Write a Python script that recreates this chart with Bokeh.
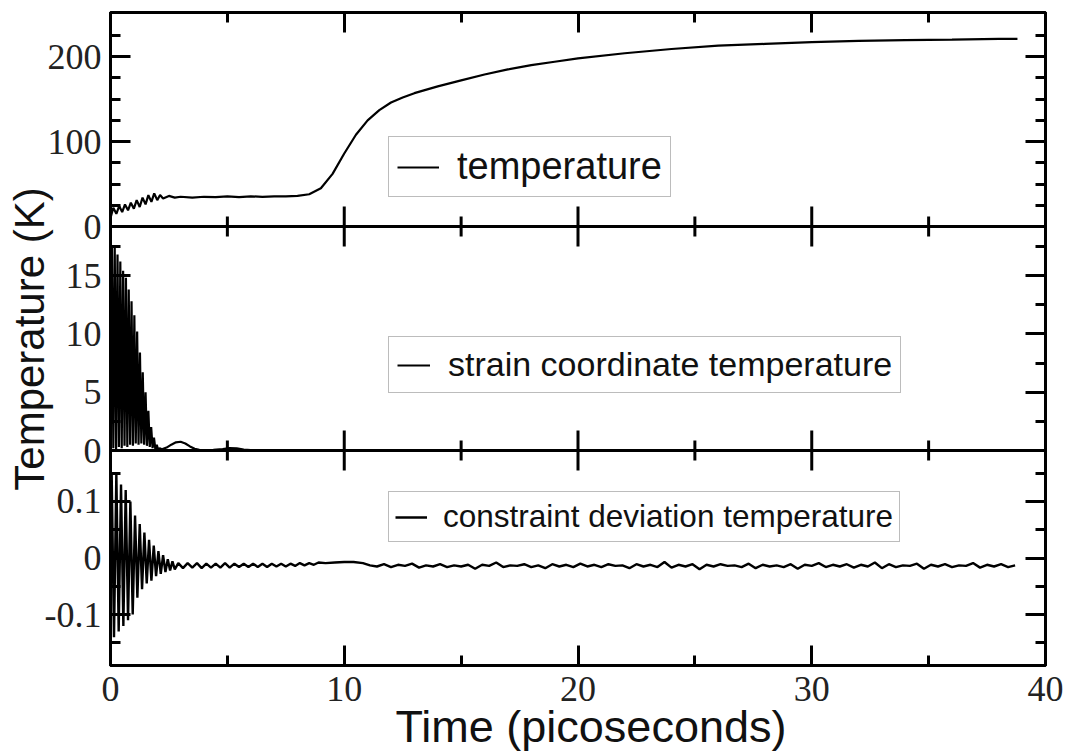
from bokeh.plotting import figure
from bokeh.models import (LinearAxis, FixedTicker, Range1d, Legend, LegendItem,
                          Span, Title)
from bokeh.core.properties import value
from bokeh.embed import file_html
from bokeh.resources import INLINE

# ---------------- data ----------------
x_ticks = [0, 10, 20, 30, 40]
x_minor = [5, 15, 25, 35]

temp_ticks = [0, 100, 200]
temp_minor = [25, 50, 75, 125, 150, 175, 225]
strain_ticks = [0, 5, 10, 15]
strain_minor = [2.5, 7.5, 12.5, 17.5]
dev_ticks = [-0.1, 0, 0.1]
dev_minor = [-0.15, -0.05, 0.05, 0.15]

temp_t = [0.0, 0.12, 0.25, 0.37, 0.5, 0.62, 0.75, 0.87, 1.0, 1.12,
          1.25, 1.37, 1.5, 1.62, 1.75, 1.87, 2.0, 2.12, 2.25, 2.5,
          2.75, 3.0, 3.5, 4.0, 4.5, 5.0, 5.5, 6.0, 6.5, 7.0,
          7.5, 8.0, 8.5, 9.0, 9.5, 10.0, 10.5, 11.0, 11.5, 12.0,
          12.5, 13.0, 14.0, 15.0, 16.0, 17.0, 18.0, 19.0, 20.0, 22.0,
          24.0, 26.0, 28.0, 30.0, 32.0, 34.0, 36.0, 38.0, 38.8]
temp_v = [10, 22, 15, 24, 17, 26, 19, 28, 21, 31,
          23, 34, 26, 37, 29, 39, 31, 37, 33, 36,
          34, 35, 34, 35, 34.5, 35.5, 34.5, 35.5, 35, 35.5,
          35.5, 36, 38, 45, 62, 86, 108, 125, 137, 146,
          152, 157, 165, 172, 179, 185, 190, 194, 198, 204,
          209, 213, 215, 217, 218.5, 219.5, 220, 221, 221]

strain_t = [0.0, 0.06, 0.12, 0.18, 0.24, 0.30, 0.36, 0.42, 0.48, 0.54,
            0.60, 0.66, 0.72, 0.78, 0.84, 0.90, 0.96, 1.02, 1.08, 1.14,
            1.20, 1.26, 1.32, 1.38, 1.44, 1.50, 1.56, 1.62, 1.68, 1.74,
            1.80, 1.86, 1.92, 1.98, 2.04, 2.10,
            2.2, 2.4, 2.6, 2.8, 3.0, 3.2, 3.4, 3.6, 3.8, 4.0,
            4.4, 4.8, 5.1, 5.4, 5.7, 6.0, 7.0, 8.0, 10.0, 15.0,
            20.0, 25.0, 30.0, 35.0, 38.8]
strain_v = [0.0, 17.5, 0.2, 17.6, 0.1, 16.8, 0.3, 16.2, 0.2, 15.4,
            0.4, 14.8, 0.3, 13.8, 0.5, 12.8, 0.4, 11.6, 0.6, 10.2,
            0.5, 8.4, 0.6, 6.7, 0.5, 5.0, 0.4, 3.4, 0.3, 2.0,
            0.2, 1.1, 0.1, 0.5, 0.05, 0.2,
            0.1, 0.25, 0.5, 0.7, 0.75, 0.6, 0.35, 0.15, 0.05, 0.03,
            0.05, 0.12, 0.2, 0.18, 0.08, 0.03, 0.02, 0.02, 0.01, 0.01,
            0.01, 0.01, 0.01, 0.01, 0.01]

dev_t = [0.0, 0.05, 0.15, 0.25, 0.35, 0.45, 0.55, 0.65, 0.75, 0.85,
         0.95, 1.05, 1.15, 1.25, 1.35, 1.45, 1.55, 1.65, 1.75, 1.85,
         1.95, 2.05, 2.15, 2.25, 2.35, 2.45, 2.55, 2.65, 2.75,
         2.9, 3.1, 3.3, 3.5, 3.7, 3.9, 4.1, 4.3, 4.5, 4.7,
         4.9, 5.1, 5.3, 5.5, 5.7, 5.9, 6.1, 6.3, 6.5, 6.7,
         6.9, 7.1, 7.3, 7.5, 7.7, 7.9, 8.1, 8.3, 8.5, 8.7, 8.9,
         9.2, 9.6, 10.0, 10.4, 10.8,
         11.1, 11.4, 11.7, 12.0, 12.3, 12.6, 12.9, 13.2, 13.5, 13.8,
         14.1, 14.4, 14.7, 15.0, 15.3, 15.6, 15.9, 16.2, 16.5, 16.8,
         17.1, 17.4, 17.7, 18.0, 18.3, 18.6, 18.9, 19.2, 19.5, 19.8,
         20.1, 20.4, 20.7, 21.0, 21.3, 21.6, 21.9, 22.2, 22.5, 22.8,
         23.1, 23.4, 23.7, 24.0, 24.3, 24.6, 24.9, 25.2, 25.5, 25.8,
         26.1, 26.4, 26.7, 27.0, 27.3, 27.6, 27.9, 28.2, 28.5, 28.8,
         29.1, 29.4, 29.7, 30.0, 30.3, 30.6, 30.9, 31.2, 31.5, 31.8,
         32.1, 32.4, 32.7, 33.0, 33.3, 33.6, 33.9, 34.2, 34.5, 34.8,
         35.1, 35.4, 35.7, 36.0, 36.3, 36.6, 36.9, 37.2, 37.5, 37.8,
         38.1, 38.4, 38.7]
dev_v = [0.0, 0.15, -0.14, 0.15, -0.13, 0.13, -0.12, 0.12, -0.11, 0.10,
         -0.10, 0.075, -0.07, 0.06, -0.055, 0.045, -0.045, 0.032, -0.04, 0.022,
         -0.032, 0.012, -0.028, 0.005, -0.025, -0.002, -0.022, -0.006, -0.02,
         -0.009, -0.018, -0.009, -0.017, -0.009, -0.018, -0.010, -0.017, -0.010, -0.017,
         -0.009, -0.017, -0.010, -0.016, -0.010, -0.016, -0.010, -0.016, -0.010, -0.016,
         -0.010, -0.015, -0.010, -0.015, -0.010, -0.014, -0.009, -0.013, -0.009, -0.012, -0.008,
         -0.009, -0.008, -0.007, -0.007, -0.009,
         -0.013, -0.015, -0.011, -0.016, -0.012, -0.014, -0.010, -0.017, -0.013, -0.015,
         -0.011, -0.016, -0.013, -0.015, -0.012, -0.019, -0.012, -0.014, -0.008, -0.016,
         -0.013, -0.014, -0.011, -0.016, -0.013, -0.018, -0.011, -0.015, -0.012, -0.016,
         -0.010, -0.015, -0.012, -0.016, -0.011, -0.014, -0.013, -0.018, -0.011, -0.015,
         -0.012, -0.016, -0.007, -0.017, -0.012, -0.015, -0.011, -0.020, -0.012, -0.015,
         -0.011, -0.014, -0.013, -0.016, -0.010, -0.018, -0.012, -0.015, -0.013, -0.016,
         -0.011, -0.019, -0.012, -0.014, -0.009, -0.016, -0.012, -0.015, -0.011, -0.017,
         -0.012, -0.015, -0.008, -0.018, -0.011, -0.016, -0.013, -0.014, -0.010, -0.019,
         -0.012, -0.015, -0.011, -0.016, -0.013, -0.014, -0.009, -0.017, -0.012, -0.015,
         -0.011, -0.016, -0.013]

legend_labels = ["temperature", "strain coordinate temperature",
                 "constraint deviation temperature"]
x_label = "Time (picoseconds)"
y_label = "Temperature (K)"

# ---------------- geometry of the three stacked panels ----------------
FRAME_W, FRAME_H = 935, 653
# (offset of the panel bottom from the frame bottom, panel height) in px
panel_px = {"top": (439, 214), "mid": (215, 224), "bot": (0, 215)}
panel_lim = {"top": (0, 252), "mid": (0, 19.2), "bot": (-0.19, 0.19)}

TICK_FONT = "Liberation Serif"
LABEL_FONT = "Liberation Sans"


def full_range(name):
    off, h = panel_px[name]
    lo, hi = panel_lim[name]
    upp = (hi - lo) / h
    return Range1d(lo - off * upp, hi + (FRAME_H - off - h) * upp)


def to_frame(name, v):
    off, h = panel_px[name]
    lo, hi = panel_lim[name]
    return round(off + (v - lo) * h / (hi - lo), 4)


p = figure(frame_width=FRAME_W, frame_height=FRAME_H,
           x_range=Range1d(0, 40), y_range=Range1d(0, FRAME_H),
           output_backend="svg", toolbar_location=None,
           x_axis_location=None, y_axis_location=None,
           min_border_left=110, min_border_right=25,
           min_border_top=12, min_border_bottom=88)
p.xgrid.visible = False
p.ygrid.visible = False
p.outline_line_color = "black"
p.outline_line_width = 3
p.background_fill_color = "white"
p.border_fill_color = "white"
p.extra_y_ranges = {n: full_range(n) for n in ("top", "mid", "bot")}

# combined ticks of the three panels on the frame's y scale
y_major, y_minor, y_over = [], [], {}
for name, ticks, minors in (("top", temp_ticks, temp_minor),
                            ("mid", strain_ticks, strain_minor),
                            ("bot", dev_ticks, dev_minor)):
    for v in ticks:
        pos = to_frame(name, v)
        y_major.append(pos)
        y_over[pos] = str(v)
    y_minor += [to_frame(name, v) for v in minors]


def style_axis(ax, show_labels):
    ax.major_tick_in = 20
    ax.major_tick_out = 0
    ax.minor_tick_in = 10
    ax.minor_tick_out = 0
    ax.axis_line_width = 3
    ax.axis_line_color = "black"
    ax.major_tick_line_width = 3
    ax.minor_tick_line_width = 3
    ax.major_tick_line_color = "black"
    ax.minor_tick_line_color = "black"
    ax.major_label_text_font = TICK_FONT
    if show_labels:
        ax.major_label_text_font_size = "36px"
        ax.major_label_text_color = "#222222"
        ax.major_label_standoff = 9
    else:
        ax.major_label_text_font_size = "0px"
        ax.major_label_text_color = None
        ax.major_label_standoff = 0
    return ax


left = style_axis(LinearAxis(ticker=FixedTicker(ticks=y_major, minor_ticks=y_minor),
                             major_label_overrides=y_over), True)
left.axis_label = y_label
left.axis_label_text_font = LABEL_FONT
left.axis_label_text_font_size = "42px"
left.axis_label_text_font_style = "normal"
left.axis_label_text_color = "#111111"
left.axis_label_standoff = -11
p.add_layout(left, "left")

right = style_axis(LinearAxis(ticker=FixedTicker(ticks=y_major, minor_ticks=y_minor)), False)
p.add_layout(right, "right")

top = style_axis(LinearAxis(ticker=FixedTicker(ticks=x_ticks, minor_ticks=x_minor)), False)
p.add_layout(top, "above")

bottom = style_axis(LinearAxis(ticker=FixedTicker(ticks=x_ticks, minor_ticks=x_minor)), True)
bottom.major_label_standoff = 11
p.add_layout(bottom, "below")

# x-axis title below the tick labels, slightly right of centre as in the reference
p.add_layout(Title(text=x_label, align="left", offset=285, standoff=-10,
                   text_font=LABEL_FONT, text_font_size="45px",
                   text_font_style="normal", text_color="#111111"), "below")

# panel separators with inward ticks on both sides
for b in (to_frame("top", 0), to_frame("mid", 0)):
    p.add_layout(Span(location=b, dimension="width", line_color="black", line_width=3))
    for ticks, ln in ((x_ticks, 20), (x_minor, 10)):
        p.segment(x0=ticks, x1=ticks, y0=[b] * len(ticks), y1=[b + ln] * len(ticks),
                  line_color="black", line_width=3)
        p.segment(x0=ticks, x1=ticks, y0=[b] * len(ticks), y1=[b - ln] * len(ticks),
                  line_color="black", line_width=3)

# data
r1 = p.line(temp_t, temp_v, y_range_name="top", line_color="black", line_width=2.2)
r2 = p.line(strain_t, strain_v, y_range_name="mid", line_color="black", line_width=2.2)
r3 = p.line(dev_t, dev_v, y_range_name="bot", line_color="black", line_width=2.4)


def add_legend(r, label, x, y, font_size, glyph_w, standoff, pad):
    leg = Legend(items=[LegendItem(label=value(label), renderers=[r])],
                 location=(x, y))
    leg.margin = 0
    leg.padding = pad
    leg.spacing = 0
    leg.glyph_width = glyph_w
    leg.glyph_height = 30
    leg.label_standoff = standoff
    leg.label_text_font = LABEL_FONT
    leg.label_text_font_size = font_size
    leg.label_text_color = "#111111"
    leg.border_line_color = "#7a7a7a"
    leg.border_line_width = 1.5
    leg.background_fill_color = "white"
    leg.background_fill_alpha = 1.0
    p.add_layout(leg)


add_legend(r1, legend_labels[0], 278, 468, "38px", 42, 18, 8)
add_legend(r2, legend_labels[1], 278, 272, "34px", 33, 18, 8)
add_legend(r3, legend_labels[2], 278, 123, "31.5px", 32, 16, 6)

open("out.html", "w").write(file_html(p, INLINE))
